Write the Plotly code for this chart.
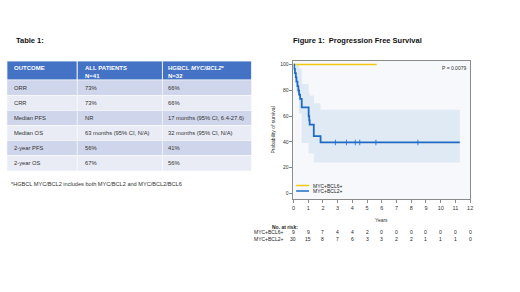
import plotly.graph_objects as go

FONT = "Liberation Sans, Arial, sans-serif"

# ---- Table data ----
table_header = ["OUTCOME", "ALL PATIENTS<br>N=41", "HGBCL <i>MYC/BCL2</i>*<br>N=32"]
outcomes = ["ORR", "CRR", "Median PFS", "Median OS", "2-year PFS", "2-year OS"]
all_patients = ["73%", "73%", "NR", "63 months (95% CI, N/A)", "56%", "67%"]
hgbcl = ["66%", "66%", "17 months (95% CI, 6.4-27.6)", "32 months (95% CI, N/A)", "41%", "56%"]

# ---- KM data ----
bcl6_t = [0, 5.65]
bcl6_s = [100, 100]
bcl2_t = [0, 0.05, 0.1, 0.16, 0.2, 0.27, 0.33, 0.38, 0.45, 0.56, 1.03, 1.07, 1.1, 1.38, 1.84, 11.3]
bcl2_s = [100, 96.7, 93.3, 90, 86.7, 83.3, 80, 76.7, 73.3, 66.7, 60, 56.7, 53.3, 44.4, 39.5, 39.5]
ci_t = [0, 0.05, 0.2, 0.38, 0.56, 1.03, 1.1, 1.38, 1.84, 11.3]
ci_upper = [100, 100, 100, 97, 85, 78, 76, 70, 65, 65]
ci_lower = [100, 92, 78, 62, 39, 31, 31, 24, 24, 24]
censor_t = [2.85, 3.6, 4.2, 4.5, 5.6, 8.45]
censor_s = [39.5, 39.5, 39.5, 39.5, 39.5, 39.5]

risk_years = list(range(13))
risk_bcl6 = [9, 9, 7, 4, 4, 2, 0, 0, 0, 0, 0, 0, 0]
risk_bcl2 = [30, 15, 8, 7, 6, 3, 3, 2, 2, 1, 1, 1, 0]
series_names = ["MYC+BCL6+", "MYC+BCL2+"]
p_value_text = "P = 0.0079"

YELLOW = "#F2C811"
BLUE = "#1F6BC4"
W, H = 520, 292


def px(x):
    return x / W


def py(y):
    return 1 - y / H


fig = go.Figure()

# CI band
fig.add_trace(go.Scatter(x=ci_t, y=ci_lower, mode="lines", line=dict(width=0, shape="hv"),
                         showlegend=False, hoverinfo="skip"))
fig.add_trace(go.Scatter(x=ci_t, y=ci_upper, mode="lines", line=dict(width=0, shape="hv"),
                         fill="tonexty", fillcolor="rgba(200,219,240,0.5)",
                         showlegend=False, hoverinfo="skip"))
fig.add_trace(go.Scatter(x=bcl6_t, y=bcl6_s, mode="lines", name=series_names[0], showlegend=False,
                         line=dict(color=YELLOW, width=1.6, shape="hv")))
fig.add_trace(go.Scatter(x=bcl2_t, y=bcl2_s, mode="lines", name=series_names[1], showlegend=False,
                         line=dict(color=BLUE, width=1.8, shape="hv")))
fig.add_trace(go.Scatter(x=censor_t, y=censor_s, mode="markers", showlegend=False,
                         marker=dict(symbol="line-ns", size=4, line=dict(color=BLUE, width=0.8))))

shapes = []
ann = []

# ---- Table drawn with shapes + annotations ----
col_edges = [5, 76, 162, 252]
row_edges = [61, 80, 95.5, 110.5, 125.5, 140.5, 155.5, 171]
text_pad = [5, 5.5, 4]
columns = [outcomes, all_patients, hgbcl]
for j in range(3):
    x0, x1 = col_edges[j], col_edges[j + 1]
    shapes.append(dict(type="rect", xref="paper", yref="paper", x0=px(x0), x1=px(x1),
                       y0=py(row_edges[0]), y1=py(row_edges[1]), fillcolor="#4472C4",
                       line=dict(color="white", width=0.8), layer="below"))
    ann.append(dict(text=f"<b>{table_header[j]}</b>", x=px(x0 + text_pad[j]), y=py(row_edges[0] + 2),
                    xref="paper", yref="paper", xanchor="left", yanchor="top", align="left",
                    showarrow=False, font=dict(family=FONT, size=6, color="white")))
    for i, val in enumerate(columns[j]):
        y0, y1 = row_edges[i + 1], row_edges[i + 2]
        fill = "#CFD5EA" if i % 2 == 0 else "#E9EBF5"
        shapes.append(dict(type="rect", xref="paper", yref="paper", x0=px(x0), x1=px(x1),
                           y0=py(y0), y1=py(y1), fillcolor=fill,
                           line=dict(color="white", width=0.5), layer="below"))
        ann.append(dict(text=val, x=px(x0 + text_pad[j]), y=py((y0 + y1) / 2),
                        xref="paper", yref="paper", xanchor="left", yanchor="middle",
                        showarrow=False, font=dict(family=FONT, size=5.8, color="#333333")))

ann.append(dict(text="<b>Table 1:</b>", x=px(12), y=py(40), xref="paper", yref="paper",
                xanchor="left", yanchor="middle", showarrow=False,
                font=dict(family=FONT, size=7.5, color="#111")))
ann.append(dict(text="<b>Figure 1:  Progression Free Survival</b>", x=px(292), y=py(40),
                xref="paper", yref="paper", xanchor="left", yanchor="middle", showarrow=False,
                font=dict(family=FONT, size=7.5, color="#111")))
ann.append(dict(text="*HGBCL MYC/BCL2 includes both MYC/BCL2 and MYC/BCL2/BCL6",
                x=px(7), y=py(184), xref="paper", yref="paper", xanchor="left",
                yanchor="middle", showarrow=False, font=dict(family=FONT, size=5.6, color="#333")))
ann.append(dict(text=p_value_text, x=0.99, y=0.98, xref="x domain", yref="y domain",
                xanchor="right", yanchor="top", showarrow=False,
                font=dict(family=FONT, size=5, color="#333")))
ann.append(dict(text="Years", x=0.5, y=py(220), xref="x domain", yref="paper",
                xanchor="center", yanchor="middle", showarrow=False,
                font=dict(family=FONT, size=5, color="#333")))

# custom legend
for name, col, ly in [(series_names[0], YELLOW, 185.5), (series_names[1], BLUE, 191)]:
    shapes.append(dict(type="line", xref="paper", yref="paper", x0=px(297), x1=px(310),
                       y0=py(ly), y1=py(ly), line=dict(color=col, width=1.5)))
    ann.append(dict(text=name, x=px(312), y=py(ly), xref="paper", yref="paper",
                    xanchor="left", yanchor="middle", showarrow=False,
                    font=dict(family=FONT, size=5, color="#222")))

# number at risk
ann.append(dict(text="<b>No. at risk:</b>", x=px(271), y=py(227), xref="paper", yref="paper",
                xanchor="left", yanchor="middle", showarrow=False,
                font=dict(family=FONT, size=5, color="#222")))
for lab, vals, ry in [(series_names[0], risk_bcl6, 232), (series_names[1], risk_bcl2, 239)]:
    ann.append(dict(text=lab, x=px(287), y=py(ry), xref="paper", yref="paper",
                    xanchor="right", yanchor="middle", showarrow=False,
                    font=dict(family=FONT, size=5, color="#222")))
    for yr, v in zip(risk_years, vals):
        ann.append(dict(text=str(v), x=yr, y=py(ry), xref="x", yref="paper",
                        xanchor="center", yanchor="middle", showarrow=False,
                        font=dict(family=FONT, size=5, color="#222")))

fig.update_layout(
    width=W, height=H, margin=dict(l=0, r=0, t=0, b=0),
    paper_bgcolor="white", plot_bgcolor="#F6F8FB",
    annotations=ann, shapes=shapes,
    showlegend=False,
    xaxis=dict(domain=[px(294.3), px(472.7)], range=[0, 12], dtick=1, tick0=0,
               showgrid=False, zeroline=False, showline=True, linecolor="#8a8a8a", linewidth=1,
               mirror=True, ticks="outside", ticklen=3, tickcolor="#8a8a8a",
               tickfont=dict(family=FONT, size=5.5, color="#333")),
    yaxis=dict(domain=[py(199), py(60.7)], range=[-4.4, 103], tickvals=[0, 20, 40, 60, 80, 100],
               showgrid=False, zeroline=False, showline=True, linecolor="#8a8a8a", linewidth=1,
               mirror=True, ticks="outside", ticklen=3, tickcolor="#8a8a8a",
               tickfont=dict(family=FONT, size=5, color="#333"),
               title=dict(text="Probability of survival", font=dict(family=FONT, size=5, color="#333"),
                          standoff=4)),
)

fig.write_html("out.html", config={"displayModeBar": False},
               post_script="document.body.style.margin='0';")
